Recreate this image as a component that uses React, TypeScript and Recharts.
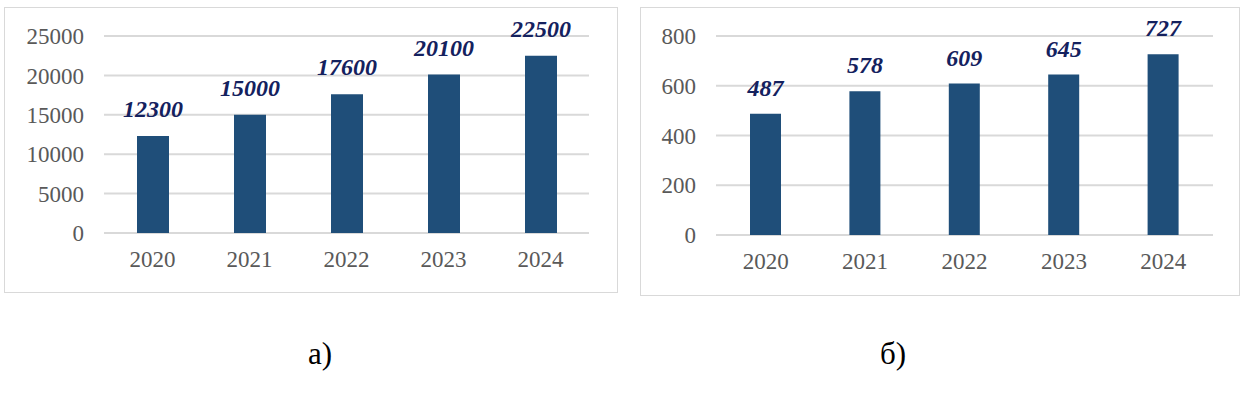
import { BarChart, Bar, XAxis, YAxis, CartesianGrid, LabelList } from 'recharts';

const years = ['2020', '2021', '2022', '2023', '2024'];
const valuesA = [12300, 15000, 17600, 20100, 22500];
const valuesB = [487, 578, 609, 645, 727];
const ticksA = [0, 5000, 10000, 15000, 20000, 25000];
const ticksB = [0, 200, 400, 600, 800];
const captions = ['а)', 'б)'];

const FONT = "'Liberation Serif', 'Times New Roman', serif";
const BAR = '#1F4E79';
const GRID = '#D9D9D9';
const TICK = '#595959';
const LABEL = '#14215E';

interface PanelProps {
  values: number[];
  ticks: number[];
  width: number;
  height: number;
  margin: { top: number; right: number; left: number; bottom: number };
  xHeight: number;
  yWidth: number;
  barSize: number;
  labelOffset: number;
}

function Panel({ values, ticks, width, height, margin, xHeight, yWidth, barSize, labelOffset }: PanelProps) {
  const data = years.map((y, i) => ({ year: y, value: values[i] }));
  const tickStyle = { fontFamily: FONT, fontSize: 23, fill: TICK };
  return (
    <BarChart width={width} height={height} data={data} margin={margin}>
      <CartesianGrid vertical={false} stroke={GRID} strokeWidth={2} />
      <XAxis
        dataKey="year"
        axisLine={false}
        tickLine={false}
        tickSize={0}
        tickMargin={18}
        height={xHeight}
        tick={tickStyle}
      />
      <YAxis
        domain={[ticks[0], ticks[ticks.length - 1]]}
        ticks={ticks}
        axisLine={false}
        tickLine={false}
        tickSize={0}
        tickMargin={20}
        width={yWidth}
        tick={tickStyle}
        interval={0}
      />
      <Bar dataKey="value" fill={BAR} barSize={barSize} isAnimationActive={false}>
        <LabelList
          dataKey="value"
          position="top"
          offset={labelOffset}
          style={{ fontFamily: FONT, fontSize: 24, fontWeight: 'bold', fontStyle: 'italic', fill: LABEL }}
        />
      </Bar>
    </BarChart>
  );
}

export default function App() {
  return (
    <div style={{ position: 'absolute', left: 0, top: 0, width: 1249, height: 396, background: '#fff', fontFamily: FONT }}>
      <style>{`.recharts-text { font-family: ${FONT}; }`}</style>
      <div style={{ position: 'absolute', left: 4, top: 7, width: 612, height: 284, border: `1px solid ${GRID}` }}>
        <Panel
          values={valuesA}
          ticks={ticksA}
          width={612}
          height={284}
          margin={{ top: 28, right: 28, left: 0, bottom: 0 }}
          xHeight={59}
          yWidth={99}
          barSize={32}
          labelOffset={19}
        />
      </div>
      <div style={{ position: 'absolute', left: 640, top: 7, width: 598, height: 287, border: `1px solid ${GRID}` }}>
        <Panel
          values={valuesB}
          ticks={ticksB}
          width={598}
          height={287}
          margin={{ top: 28, right: 26, left: 0, bottom: 0 }}
          xHeight={60}
          yWidth={75}
          barSize={31}
          labelOffset={18}
        />
      </div>
      <div style={{ position: 'absolute', left: 270, top: 336, width: 100, textAlign: 'center', fontSize: 31, color: '#000' }}>
        {captions[0]}
      </div>
      <div style={{ position: 'absolute', left: 843, top: 336, width: 100, textAlign: 'center', fontSize: 31, color: '#000' }}>
        {captions[1]}
      </div>
    </div>
  );
}
